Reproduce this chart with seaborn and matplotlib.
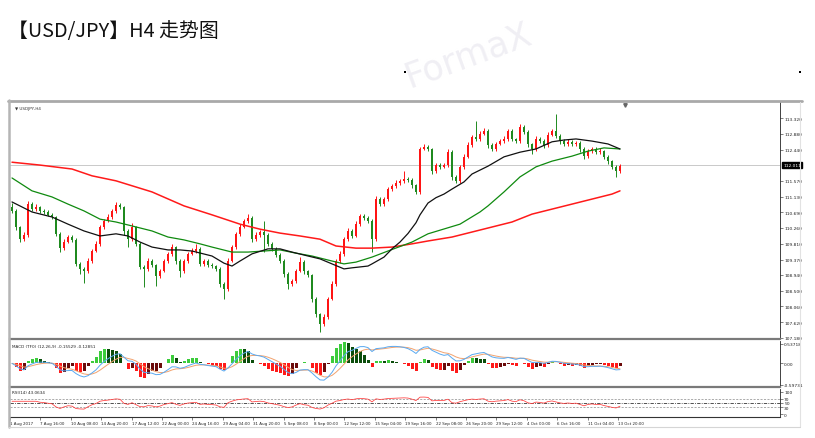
import numpy as np
import pandas as pd
import matplotlib
matplotlib.use("Agg")
import matplotlib.pyplot as plt
import matplotlib.transforms as mtransforms
from matplotlib.lines import Line2D
from matplotlib.patches import Rectangle
import seaborn as sns

# ---------------- data ----------------
title = "【USD/JPY】H4 走势图"
first_open = 110.84
close = [110.73, 110.28, 109.94, 110.06, 110.92, 110.78, 110.84, 110.73, 110.70, 110.62,
         110.56, 110.09, 109.69, 109.86, 110.00, 109.92, 109.25, 109.11, 109.05, 109.33,
         109.61, 109.81, 110.28, 110.45, 110.56, 110.73, 110.89, 110.84, 110.17, 109.94,
         110.28, 109.81, 109.16, 109.11, 109.33, 109.22, 108.91, 109.05, 109.33, 109.53,
         109.72, 109.33, 109.05, 109.33, 109.53, 109.61, 109.67, 109.25, 109.33, 109.22,
         109.19, 109.11, 108.69, 108.55, 109.33, 109.72, 110.09, 110.28, 110.45, 110.53,
         109.94, 110.06, 110.14, 110.06, 109.81, 109.67, 109.50, 109.33, 108.97, 108.69,
         108.77, 109.05, 109.30, 109.05, 108.94, 108.27, 107.85, 107.57, 107.77, 108.27,
         108.69, 109.33, 109.53, 109.94, 110.17, 110.03, 110.36, 110.59, 110.53, 110.45,
         109.94, 111.06, 110.92, 111.06, 111.34, 111.42, 111.51, 111.57, 111.62, 111.59,
         111.45, 111.26, 112.46, 112.51, 112.46, 111.85, 112.01, 111.96, 112.01, 112.38,
         111.68, 111.57, 111.96, 112.24, 112.57, 112.80, 112.74, 112.88, 112.96, 112.57,
         112.46, 112.60, 112.68, 112.74, 112.96, 112.74, 112.68, 113.07, 112.93, 112.60,
         112.46, 112.74, 112.68, 112.57, 112.85, 112.96, 112.82, 112.68, 112.60, 112.66,
         112.60, 112.63, 112.46, 112.26, 112.40, 112.46, 112.38, 112.40, 112.24, 112.12,
         111.96, 111.84, 111.98]
up_wick = [0.10, 0.06, 0.04, 0.08, 0.08, 0.05, 0.07, 0.04, 0.06, 0.05,
           0.04, 0.03, 0.06, 0.08, 0.05, 0.07, 0.04, 0.05, 0.06, 0.08,
           0.05, 0.07, 0.06, 0.05, 0.08, 0.06, 0.09, 0.06, 0.04, 0.05,
           0.10, 0.04, 0.05, 0.06, 0.08, 0.05, 0.04, 0.07, 0.06, 0.05,
           0.09, 0.04, 0.05, 0.07, 0.06, 0.08, 0.14, 0.05, 0.07, 0.06,
           0.05, 0.04, 0.06, 0.05, 0.09, 0.07, 0.06, 0.08, 0.05, 0.11,
           0.05, 0.07, 0.06, 0.31, 0.05, 0.06, 0.04, 0.05, 0.06, 0.04,
           0.07, 0.06, 0.14, 0.05, 0.04, 0.03, 0.05, 0.04, 0.08, 0.06,
           0.07, 0.05, 0.08, 0.06, 0.07, 0.05, 0.09, 0.06, 0.05, 0.06,
           0.04, 0.08, 0.06, 0.07, 0.05, 0.06, 0.08, 0.05, 0.22, 0.06,
           0.05, 0.04, 0.06, 0.08, 0.05, 0.04, 0.07, 0.05, 0.06, 0.09,
           0.05, 0.04, 0.06, 0.07, 0.08, 0.06, 0.45, 0.07, 0.08, 0.05,
           0.06, 0.05, 0.07, 0.08, 0.06, 0.05, 0.04, 0.08, 0.06, 0.05,
           0.04, 0.07, 0.06, 0.05, 0.08, 0.06, 0.47, 0.05, 0.06, 0.07,
           0.05, 0.06, 0.04, 0.05, 0.07, 0.06, 0.05, 0.08, 0.04, 0.05,
           0.04, 0.05, 0.06]
lo_wick = [0.05, 0.07, 0.09, 0.04, 0.06, 0.05, 0.04, 0.06, 0.05, 0.04,
           0.06, 0.05, 0.11, 0.05, 0.04, 0.06, 0.05, 0.14, 0.34, 0.05,
           0.06, 0.04, 0.05, 0.06, 0.04, 0.05, 0.06, 0.05, 0.11, 0.22,
           0.05, 0.07, 0.06, 0.50, 0.05, 0.06, 0.28, 0.05, 0.04, 0.06,
           0.05, 0.07, 0.17, 0.05, 0.06, 0.04, 0.05, 0.07, 0.05, 0.06,
           0.05, 0.06, 0.08, 0.28, 0.05, 0.04, 0.06, 0.05, 0.04, 0.05,
           0.08, 0.05, 0.06, 0.47, 0.05, 0.07, 0.06, 0.05, 0.08, 0.14,
           0.06, 0.05, 0.04, 0.07, 0.06, 0.09, 0.08, 0.22, 0.06, 0.05,
           0.04, 0.06, 0.05, 0.07, 0.05, 0.06, 0.04, 0.05, 0.06, 0.07,
           0.36, 0.05, 0.06, 0.04, 0.05, 0.06, 0.04, 0.05, 0.06, 0.05,
           0.07, 0.06, 0.05, 0.04, 0.06, 0.09, 0.05, 0.06, 0.04, 0.05,
           0.08, 0.07, 0.05, 0.06, 0.04, 0.05, 0.06, 0.05, 0.04, 0.08,
           0.06, 0.05, 0.04, 0.06, 0.05, 0.07, 0.05, 0.04, 0.06, 0.08,
           0.14, 0.05, 0.06, 0.07, 0.05, 0.04, 0.06, 0.08, 0.05, 0.06,
           0.05, 0.06, 0.08, 0.07, 0.05, 0.06, 0.07, 0.05, 0.06, 0.08,
           0.06, 0.17, 0.05]

ma_black_idx = [0, 5, 10, 14, 18, 22, 26, 29, 32, 35, 39, 42, 45, 50, 53, 55, 57, 60, 64, 67,
                70, 74, 77, 80, 83, 85, 89, 90, 93, 95, 97, 99, 101, 102, 104, 106, 108, 110, 113,
                115, 119, 123, 127, 131, 135, 138, 141, 145, 149, 152]
ma_black = [110.98, 110.70, 110.56, 110.36, 110.17, 110.03, 110.09, 110.03, 109.86, 109.72,
            109.64, 109.64, 109.61, 109.47, 109.27, 109.19, 109.33, 109.53, 109.67, 109.67,
            109.58, 109.47, 109.39, 109.25, 109.11, 109.14, 109.19, 109.25, 109.44, 109.67,
            109.86, 110.10, 110.40, 110.62, 110.95, 111.10, 111.20, 111.34, 111.54,
            111.76, 111.98, 112.24, 112.37, 112.46, 112.66, 112.71, 112.74, 112.68, 112.60,
            112.46]
ma_green_idx = [0, 5, 10, 14, 18, 22, 26, 30, 35, 39, 43, 47, 50, 55, 59, 63, 67, 71, 75, 80,
                83, 86, 90, 94, 100, 104, 112, 117, 119, 123, 127, 131, 135, 140, 144, 148, 152]
ma_green = [111.65, 111.29, 111.12, 110.92, 110.73, 110.50, 110.42, 110.31, 110.17, 110.00,
            109.92, 109.81, 109.72, 109.58, 109.58, 109.61, 109.64, 109.55, 109.47, 109.33,
            109.25, 109.30, 109.44, 109.61, 109.86, 110.09, 110.36, 110.70, 110.87, 111.26,
            111.68, 111.96, 112.12, 112.26, 112.40, 112.49, 112.46]
ma_red_idx = [0, 7, 15, 20, 26, 35, 43, 50, 57, 62, 67, 72, 77, 81, 86, 90, 95, 100, 104, 110,
              115, 120, 125, 130, 135, 140, 145, 150, 152]
ma_red = [112.09, 112.01, 111.90, 111.71, 111.57, 111.26, 110.87, 110.62, 110.36, 110.22,
          110.11, 110.03, 109.94, 109.75, 109.69, 109.69, 109.72, 109.81, 109.89, 110.00,
          110.14, 110.28, 110.42, 110.64, 110.78, 110.92, 111.06, 111.20, 111.29]

price_ticks = [113.320, 112.880, 112.440, 111.570, 111.130, 110.690, 110.260, 109.810,
               109.370, 108.940, 108.500, 108.060, 107.620, 107.180]
price_labels = ["113.320", "112.880", "112.440", "111.570", "111.130", "110.690", "110.260",
                "109.810", "109.370", "108.940", "108.500", "108.060", "107.620", "107.180"]
current_price = 112.011
macd_ticks = [0.53718, 0.0, -0.59731]
macd_labels = ["0.53718", "0.00", "-0.59731"]
rsi_ticks = [100, 70, 50, 30, 0]
time_labels = ["1 Aug 2017", "7 Aug 16:00", "10 Aug 08:00", "14 Aug 20:00", "17 Aug 12:00",
               "22 Aug 00:00", "24 Aug 16:00", "29 Aug 04:00", "31 Aug 20:00", "5 Sep 08:00",
               "8 Sep 00:00", "12 Sep 12:00", "15 Sep 04:00", "19 Sep 16:00", "22 Sep 08:00",
               "26 Sep 20:00", "29 Sep 12:00", "4 Oct 00:00", "6 Oct 16:00", "11 Oct 04:00",
               "13 Oct 20:00"]

# ---------------- derived ----------------
n = len(close)
idx = np.arange(n)
c = np.array(close)
o = np.array([first_open] + close[:-1])
hi = np.maximum(o, c) + np.array(up_wick)
lo = np.minimum(o, c) - np.array(lo_wick)
rising = c >= o
UPC, DNC = "#ff1414", "#1f8a1f"
cols = np.where(rising, UPC, DNC)

s = pd.Series(c)
macd_line = s.ewm(span=6, adjust=False).mean() - s.ewm(span=13, adjust=False).mean()
signal = macd_line.ewm(span=5, adjust=False).mean()
hist = 2.5 * (macd_line - signal)
hv = hist.values
d = hist.diff().fillna(0).values
hcols = np.where(hv >= 0, np.where(d >= 0, "#3ccc3c", "#0b4d0b"),
                 np.where(d < 0, "#ff1a1a", "#6b0a0a"))
delta = s.diff().fillna(0)
gain = delta.clip(lower=0).ewm(alpha=1 / 10, adjust=True).mean()
loss = (-delta.clip(upper=0)).ewm(alpha=1 / 10, adjust=True).mean()
rsi = 100 - 100 / (1 + gain / loss)
rsi[:6] = np.nan
rsi = rsi.bfill()

# ---------------- figure ----------------
sns.set_theme(style="white")
plt.rcParams["font.family"] = ["DejaVu Sans"]
W, H = 815, 439
fig = plt.figure(figsize=(W / 100, H / 100), dpi=100)
fig.patch.set_facecolor("white")


def fx(x):
    return x / W


def fy(y):
    return 1 - y / H


def pxline(x0, y0, x1, y1, color, lw, z=5):
    fig.add_artist(Line2D([fx(x0), fx(x1)], [fy(y0), fy(y1)], transform=fig.transFigure,
                          color=color, lw=lw, zorder=z))


# watermark
fig.text(fx(468), fy(55), "FormaX", fontsize=25, color="#f0eff4", rotation=20,
         ha="center", va="center", zorder=0)

# title
fig.text(fx(8), fy(31), title, fontsize=14.3, color="#111111", ha="left", va="center",
         family=["Noto Sans CJK SC", "DejaVu Sans"])
for xx in (405, 800):
    fig.add_artist(Rectangle((fx(xx - 1), fy(74)), 2 / W, 2 / H, transform=fig.transFigure,
                             color="black", lw=0))

L, R = 10, 780
ax = fig.add_axes([fx(L), fy(340), (R - L) / W, (340 - 103) / H])
ax2 = fig.add_axes([fx(L), fy(388), (R - L) / W, (388 - 342) / H], sharex=ax)
ax3 = fig.add_axes([fx(L), fy(418), (R - L) / W, (418 - 390) / H], sharex=ax)

for a in (ax, ax2, ax3):
    a.set_facecolor("white")
    a.spines["top"].set_visible(False)
    a.spines["left"].set_visible(False)
    a.spines["right"].set_color("#222222")
    a.spines["right"].set_linewidth(0.6)
    a.yaxis.tick_right()
    a.tick_params(axis="y", length=2, width=0.4, pad=1, labelsize=3.2, colors="#222222",
                  direction="out", right=True, left=False)
    a.grid(False)
ax.spines["bottom"].set_color("#7a7a7a")
ax.spines["bottom"].set_linewidth(1.6)
ax2.spines["bottom"].set_color("#7a7a7a")
ax2.spines["bottom"].set_linewidth(1.6)
ax3.spines["bottom"].set_color("#333333")
ax3.spines["bottom"].set_linewidth(0.8)

# ---- price panel ----
ax.axhline(current_price, color="#c9c9c9", lw=0.7, zorder=1)
ax.vlines(idx, lo, hi, colors=cols, lw=0.7, zorder=2)
body_h = np.maximum(np.abs(c - o), 0.012)
ax.bar(idx, body_h, bottom=np.minimum(o, c), width=0.55, color=cols, linewidth=0, zorder=3)
sns.lineplot(x=ma_red_idx, y=ma_red, ax=ax, color="#ff1a1a", lw=1.1, zorder=4)
sns.lineplot(x=ma_green_idx, y=ma_green, ax=ax, color="#0f8a0f", lw=0.9, zorder=4)
sns.lineplot(x=ma_black_idx, y=ma_black, ax=ax, color="#111111", lw=0.9, zorder=4)
ax.set_xlim(-0.5, 192)
ax.set_ylim(107.152, 113.772)
ax.set_yticks(price_ticks)
ax.set_yticklabels(price_labels)
ax.set_xlabel("")
ax.set_ylabel("")
ax.tick_params(axis="x", bottom=False, labelbottom=False)
tr = mtransforms.blended_transform_factory(ax.transAxes, ax.transData)
ax.text(1.004, current_price, f"{current_price:.3f}", transform=tr, fontsize=3.2, color="white",
        va="center", ha="left", bbox=dict(facecolor="black", edgecolor="black", pad=0.6))
ax.plot([153.25], [113.70], marker="v", markersize=2.5, color="#666666", clip_on=False, zorder=6)
ax.text(0.006, 0.985, "\u25bc USDJPY,H4", transform=ax.transAxes, fontsize=3, color="#333333",
        va="top", ha="left")

# ---- MACD panel ----
ax2.bar(idx, hv, width=0.75, color=hcols, linewidth=0, zorder=2)
sns.lineplot(x=idx, y=signal.values, ax=ax2, color="#f2a26e", lw=0.7, zorder=3)
sns.lineplot(x=idx, y=macd_line.values, ax=ax2, color="#5aa9f0", lw=0.7, zorder=3)
ax2.set_ylim(-0.653, 0.62)
ax2.set_yticks(macd_ticks)
ax2.set_yticklabels(macd_labels)
ax2.set_xlabel("")
ax2.set_ylabel("")
ax2.tick_params(axis="x", bottom=False, labelbottom=False)
ax2.text(0.003, 0.93, "MACD (TF0) (12,26,9) -0.15529 -0.12851", transform=ax2.transAxes,
         fontsize=3, color="#222222", va="top", ha="left")

# ---- RSI panel ----
for lvl, col, ls, lw in ((70, "#8a8a8a", (0, (3, 2)), 0.5), (30, "#8a8a8a", (0, (3, 2)), 0.5),
                         (50, "#333333", (0, (4, 1.5, 1, 1.5)), 0.6)):
    ax3.axhline(lvl, color=col, ls=ls, lw=lw, zorder=1)
sns.lineplot(x=idx, y=rsi.values, ax=ax3, color="#ff3b3b", lw=0.55, zorder=3)
ax3.set_ylim(-13.6, 113.6)
ax3.set_yticks(rsi_ticks)
ax3.set_yticklabels([str(t) for t in rsi_ticks])
ax3.set_ylabel("")
ax3.set_xlabel("")
ax3.text(0.003, 0.95, "RSI(14) 43.0634", transform=ax3.transAxes, fontsize=3, color="#222222",
         va="top", ha="left")
tick_pos = np.arange(len(time_labels)) * 7.6 - 0.5
ax3.set_xticks(tick_pos)
ax3.set_xticklabels(time_labels, ha="left")
ax3.tick_params(axis="x", bottom=True, length=2, width=0.4, pad=1, labelsize=2.9,
                colors="#222222", direction="out")
ax.set_xlim(-0.5, 192)

# ---- window frame ----
pxline(8, 102, 802, 102, "#a9a9a9", 2.0)
pxline(9, 101, 9, 428, "#b5b5b5", 1.8)
pxline(800, 103, 800, 428, "#e2e2e2", 0.8)
pxline(8, 428, 800, 428, "#d5d5d5", 0.8)

fig.savefig("out.png", dpi=100, facecolor="white")
